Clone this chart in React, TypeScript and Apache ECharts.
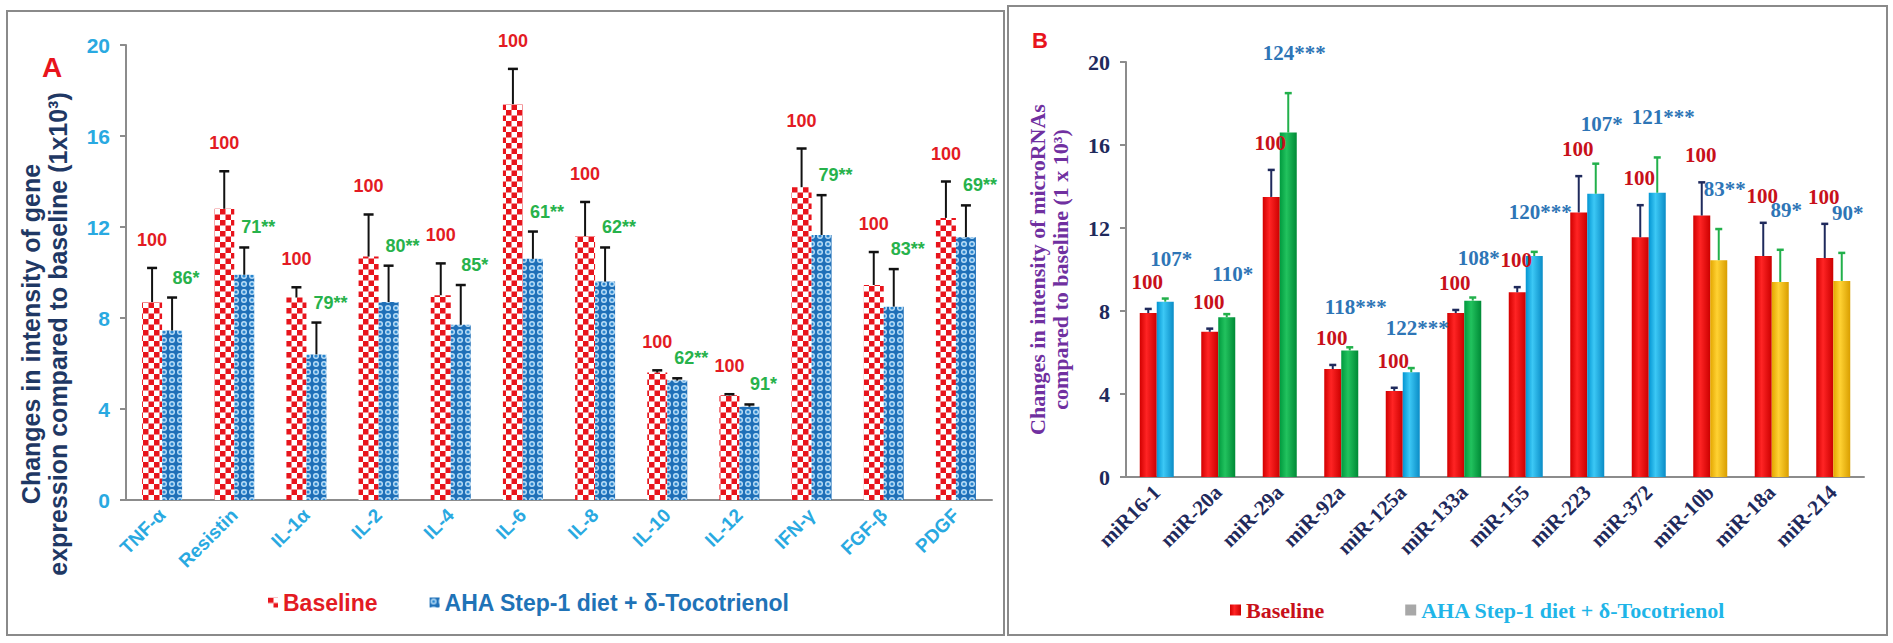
import React, { useEffect, useRef } from 'react';
import * as echarts from 'echarts';

// ---------- Panel A data ----------
const catsA = ['TNF-α', 'Resistin', 'IL-1α', 'IL-2', 'IL-4', 'IL-6', 'IL-8', 'IL-10', 'IL-12', 'IFN-γ', 'FGF-β', 'PDGF'];
const baseA = [8.7, 12.8, 8.9, 10.7, 9.0, 17.4, 11.6, 5.6, 4.6, 13.75, 9.45, 12.4];
const baseErrA = [10.2, 14.45, 9.35, 12.55, 10.4, 18.95, 13.1, 5.7, 4.65, 15.45, 10.9, 14.0];
const trtA = [7.45, 9.9, 6.4, 8.7, 7.7, 10.6, 9.6, 5.25, 4.1, 11.65, 8.5, 11.55];
const trtErrA = [8.9, 11.1, 7.8, 10.3, 9.45, 11.8, 11.1, 5.35, 4.2, 13.4, 10.15, 12.95];
const baseLblA = ['100', '100', '100', '100', '100', '100', '100', '100', '100', '100', '100', '100'];
const trtLblA = ['86*', '71**', '79**', '80**', '85*', '61**', '62**', '62**', '91*', '79**', '83**', '69**'];
const titleA = 'Changes in intensity of gene\nexpression compared to baseline (1x10³)';

// ---------- Panel B data ----------
const catsB = ['miR16-1', 'miR-20a', 'miR-29a', 'miR-92a', 'miR-125a', 'miR-133a', 'miR-155', 'miR-223', 'miR-372', 'miR-10b', 'miR-18a', 'miR-214'];
const baseB = [7.9, 7.0, 13.5, 5.2, 4.15, 7.9, 8.9, 12.75, 11.55, 12.6, 10.65, 10.55];
const baseErrB = [8.1, 7.15, 14.8, 5.4, 4.3, 8.05, 9.15, 14.5, 13.1, 14.2, 12.25, 12.2];
const trtB = [8.45, 7.7, 16.6, 6.1, 5.05, 8.5, 10.65, 13.65, 13.7, 10.45, 9.4, 9.45];
const trtErrB = [8.6, 7.85, 18.5, 6.25, 5.25, 8.65, 10.85, 15.1, 15.4, 11.95, 10.95, 10.8];
const trtClassB = ['blue', 'green', 'green', 'green', 'blue', 'green', 'blue', 'blue', 'blue', 'yellow', 'yellow', 'yellow'];
const baseLblB = ['100', '100', '100', '100', '100', '100', '100', '100', '100', '100', '100', '100'];
const trtLblB = ['107*', '110*', '124***', '118***', '122***', '108*', '120***', '107*', '121***', '83**', '89*', '90*'];
const titleB = 'Changes in intensity of microRNAs\ncompared to baseline (1 x 10³)';

const SERIES_BASE = 'Baseline';
const SERIES_TRT = 'AHA Step-1 diet + δ-Tocotrienol';

// ---------- styles ----------
const svgUrl = (s: string) => 'data:image/svg+xml;charset=utf-8,' + encodeURIComponent(s);
const checker = {
  image: svgUrl(
    "<svg xmlns='http://www.w3.org/2000/svg' width='11' height='11'><rect width='11' height='11' fill='#ffffff'/><rect width='5.5' height='5.5' fill='#e8141c'/><rect x='5.5' y='5.5' width='5.5' height='5.5' fill='#e8141c'/></svg>"
  ),
  repeat: 'repeat',
  imageWidth: 11,
  imageHeight: 11,
};
const bubbles = {
  image: svgUrl(
    "<svg xmlns='http://www.w3.org/2000/svg' width='8' height='8'><rect width='8' height='8' fill='#1f70b8'/><circle cx='4' cy='4' r='3' fill='#b9ddf6'/><circle cx='4' cy='4' r='1.6' fill='#2a86cf'/></svg>"
  ),
  repeat: 'repeat',
  imageWidth: 8,
  imageHeight: 8,
};
const grad = (a: string, b: string, c: string) =>
  new echarts.graphic.LinearGradient(0, 0, 1, 0, [
    { offset: 0, color: a },
    { offset: 0.4, color: b },
    { offset: 1, color: c },
  ]);
const trtColors: Record<string, any> = {
  blue: grad('#0395d2', '#3cc8f5', '#0a8cc6'),
  green: grad('#009a3e', '#22c25e', '#008a36'),
  yellow: grad('#e3a600', '#ffd233', '#d99e00'),
};
const redGrad = grad('#d20000', '#ff2424', '#cc0000');

const SANS = 'Liberation Sans';
const SERIF = 'Liberation Serif';

function errSeries(
  xi: number,
  vals: number[],
  errs: number[],
  labels: string[],
  o: { side: number; barW: number; cap: number; color: string; lblColor: string; font: string; size: number; dx: number; dy: number }
) {
  return {
    type: 'custom',
    name: 'err' + xi + o.side,
    xAxisIndex: xi,
    yAxisIndex: xi,
    z: 5,
    silent: true,
    data: vals.map((v, i) => [i, v, errs[i]]),
    renderItem: (params: any, api: any) => {
      const i = api.value(0);
      const p0 = api.coord([i, api.value(1)]);
      const p1 = api.coord([i, api.value(2)]);
      const x = p0[0] + (o.side * o.barW) / 2;
      return {
        type: 'group',
        children: [
          { type: 'line', shape: { x1: x, y1: p0[1], x2: x, y2: p1[1] }, style: { stroke: o.color, lineWidth: 2 } },
          { type: 'line', shape: { x1: x - o.cap / 2, y1: p1[1], x2: x + o.cap / 2, y2: p1[1] }, style: { stroke: o.color, lineWidth: 2.5 } },
          {
            type: 'text',
            x: x + o.dx,
            y: p1[1] - o.dy,
            style: {
              text: labels[params.dataIndex],
              fill: o.lblColor,
              fontFamily: o.font,
              fontWeight: 'bold',
              fontSize: o.size,
              textAlign: 'center',
              textVerticalAlign: 'middle',
            },
          },
        ],
      };
    },
  };
}

export default function App() {
  const ref = useRef<HTMLDivElement>(null);
  useEffect(() => {
    if (!ref.current) return;
    const chart = echarts.init(ref.current, null, { renderer: 'svg' });
    const axisGray = { color: '#8c8c8c', width: 2 };
    const option: any = {
      animation: false,
      backgroundColor: '#ffffff',
      grid: [
        { left: 126, top: 45, width: 866, height: 455 },
        { left: 1126, top: 62, width: 738, height: 415 },
      ],
      xAxis: [
        {
          type: 'category',
          gridIndex: 0,
          data: catsA,
          axisLine: { lineStyle: axisGray },
          axisTick: { length: 6, lineStyle: axisGray },
          axisLabel: { interval: 0, rotate: 45, margin: 12, color: '#29a9e1', fontFamily: SANS, fontWeight: 'bold', fontSize: 19 },
        },
        {
          type: 'category',
          gridIndex: 1,
          data: catsB,
          axisLine: { lineStyle: axisGray },
          axisTick: { length: 6, lineStyle: axisGray },
          axisLabel: { interval: 0, rotate: 45, margin: 12, color: '#1f2a5c', fontFamily: SERIF, fontWeight: 'bold', fontSize: 21 },
        },
      ],
      yAxis: [
        {
          type: 'value',
          gridIndex: 0,
          min: 0,
          max: 20,
          interval: 4,
          splitLine: { show: false },
          axisLine: { show: true, lineStyle: axisGray },
          axisTick: { show: true, length: 6, lineStyle: axisGray },
          axisLabel: { margin: 16, color: '#29a9e1', fontFamily: SANS, fontWeight: 'bold', fontSize: 21 },
        },
        {
          type: 'value',
          gridIndex: 1,
          min: 0,
          max: 20,
          interval: 4,
          splitLine: { show: false },
          axisLine: { show: true, lineStyle: axisGray },
          axisTick: { show: true, length: 6, lineStyle: axisGray },
          axisLabel: { margin: 16, color: '#1f2a5c', fontFamily: SERIF, fontWeight: 'bold', fontSize: 22 },
          name: titleB,
          nameLocation: 'middle',
          nameGap: 54,
          nameTextStyle: { color: '#7030a0', fontFamily: SERIF, fontWeight: 'bold', fontSize: 22, lineHeight: 23 },
        },
      ],
      legend: [
        {
          selectedMode: false,
          left: 263,
          top: 586,
          icon: 'rect',
          itemWidth: 10,
          itemHeight: 10,
          itemGap: 52,
          textStyle: { fontFamily: SANS, fontWeight: 'bold', fontSize: 23 },
          data: [
            { name: SERIES_BASE, textStyle: { color: '#e31b23' } },
            { name: SERIES_TRT, textStyle: { color: '#1f73b7' } },
          ],
        },
        {
          selectedMode: false,
          left: 1225,
          top: 594,
          icon: 'rect',
          itemWidth: 11,
          itemHeight: 11,
          itemGap: 81,
          formatter: (n: string) => n.trim(),
          textStyle: { fontFamily: SERIF, fontWeight: 'bold', fontSize: 22 },
          data: [
            { name: SERIES_BASE + ' ', textStyle: { color: '#c8101a' } },
            { name: SERIES_TRT + ' ', textStyle: { color: '#1fb5e8' } },
          ],
        },
      ],
      graphic: [
        { type: 'rect', silent: true, shape: { x: 7, y: 11, width: 997, height: 624 }, style: { fill: 'none', stroke: '#8a8a8a', lineWidth: 2 } },
        { type: 'rect', silent: true, shape: { x: 1008, y: 6, width: 879, height: 629 }, style: { fill: 'none', stroke: '#8a8a8a', lineWidth: 2 } },
        { type: 'text', silent: true, x: 52, y: 67, style: { text: 'A', fill: '#e8141c', fontFamily: SANS, fontWeight: 'bold', fontSize: 28, textAlign: 'center', textVerticalAlign: 'middle' } },
        { type: 'text', silent: true, x: 1040, y: 40, style: { text: 'B', fill: '#e8141c', fontFamily: SANS, fontWeight: 'bold', fontSize: 22, textAlign: 'center', textVerticalAlign: 'middle' } },
        {
          type: 'text',
          silent: true,
          x: 44,
          y: 334,
          rotation: Math.PI / 2,
          style: { text: titleA, fill: '#1f3864', fontFamily: SANS, fontWeight: 'bold', fontSize: 25, lineHeight: 27, textAlign: 'center', textVerticalAlign: 'middle' },
        },
      ],
      series: [
        { type: 'bar', name: SERIES_BASE, xAxisIndex: 0, yAxisIndex: 0, data: baseA, barWidth: 20, barGap: '0%', itemStyle: { color: checker } },
        { type: 'bar', name: SERIES_TRT, xAxisIndex: 0, yAxisIndex: 0, data: trtA, barWidth: 20, barGap: '0%', itemStyle: { color: bubbles } },
        errSeries(0, baseA, baseErrA, baseLblA, { side: -1, barW: 20, cap: 10, color: '#111111', lblColor: '#e31b23', font: SANS, size: 18, dx: 0, dy: 28 }),
        errSeries(0, trtA, trtErrA, trtLblA, { side: 1, barW: 20, cap: 10, color: '#111111', lblColor: '#27b24b', font: SANS, size: 18, dx: 14, dy: 20 }),
        { type: 'bar', name: SERIES_BASE + ' ', xAxisIndex: 1, yAxisIndex: 1, data: baseB, barWidth: 17, barGap: '0%', itemStyle: { color: redGrad } },
        {
          type: 'bar',
          name: SERIES_TRT + ' ',
          xAxisIndex: 1,
          yAxisIndex: 1,
          barWidth: 17,
          barGap: '0%',
          itemStyle: { color: '#a8a8a8' },
          data: trtB.map((v, i) => ({ value: v, itemStyle: { color: trtColors[trtClassB[i]] } })),
        },
        errSeries(1, baseB, baseErrB, baseLblB, { side: -1, barW: 17, cap: 7, color: '#1f2a5c', lblColor: '#c8101a', font: SERIF, size: 21, dx: -1, dy: 27 }),
        errSeries(1, trtB, trtErrB, trtLblB, { side: 1, barW: 17, cap: 7, color: '#22b04b', lblColor: '#2e75b6', font: SERIF, size: 21, dx: 6, dy: 40 }),
      ],
    };
    chart.setOption(option);
    return () => chart.dispose();
  }, []);
  return <div ref={ref} style={{ position: 'fixed', left: 0, top: 0, width: 1893, height: 643 }} />;
}
